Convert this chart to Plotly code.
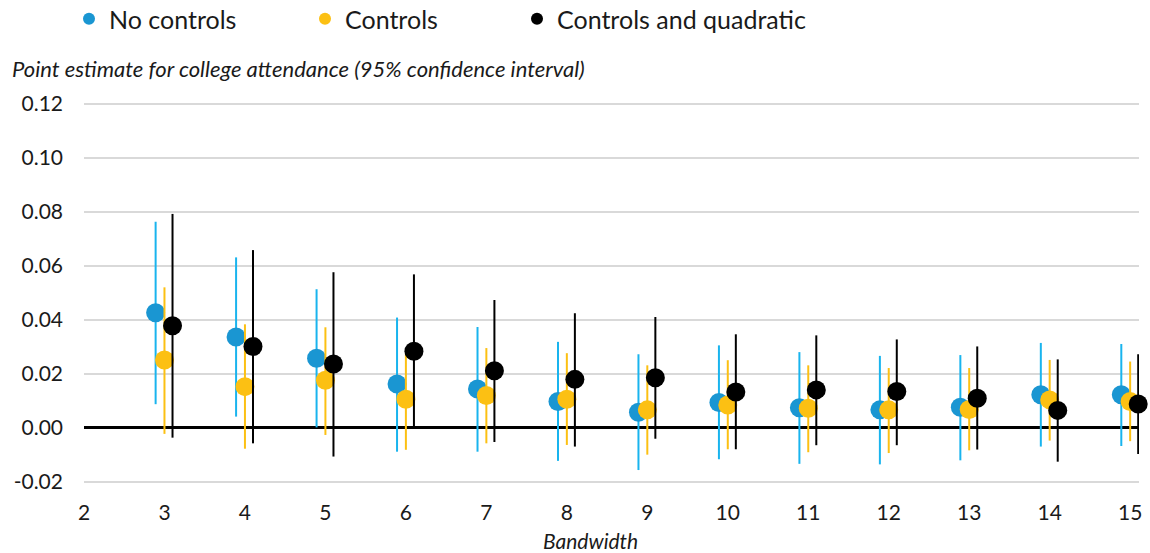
import plotly.graph_objects as go

bandwidth = [3, 4, 5, 6, 7, 8, 9, 10, 11, 12, 13, 14, 15]
x_ticks = [2, 3, 4, 5, 6, 7, 8, 9, 10, 11, 12, 13, 14, 15]
y_ticks = [-0.02, 0.00, 0.02, 0.04, 0.06, 0.08, 0.10, 0.12]
y_tick_labels = ["-0.02", "0.00", "0.02", "0.04", "0.06", "0.08", "0.10", "0.12"]

# No controls
nc_est = [0.0427, 0.0337, 0.0258, 0.0163, 0.0144, 0.0098, 0.0058, 0.0094, 0.0075, 0.0067, 0.0077, 0.0123, 0.0123]
nc_lo = [0.0088, 0.0042, 0.0002, -0.0088, -0.0088, -0.0122, -0.0156, -0.0116, -0.0133, -0.0135, -0.0120, -0.0069, -0.0067]
nc_hi = [0.0764, 0.0632, 0.0514, 0.0409, 0.0374, 0.0319, 0.0273, 0.0306, 0.0281, 0.0267, 0.0270, 0.0315, 0.0311]

# Controls
c_est = [0.0252, 0.0153, 0.0177, 0.0106, 0.0120, 0.0106, 0.0067, 0.0085, 0.0073, 0.0067, 0.0068, 0.0104, 0.0098]
c_lo = [-0.0022, -0.0077, -0.0026, -0.0081, -0.0057, -0.0063, -0.0099, -0.0079, -0.0090, -0.0093, -0.0083, -0.0047, -0.0049]
c_hi = [0.0521, 0.0384, 0.0373, 0.0277, 0.0296, 0.0277, 0.0232, 0.0251, 0.0232, 0.0222, 0.0222, 0.0252, 0.0246]

# Controls and quadratic
q_est = [0.0379, 0.0302, 0.0237, 0.0284, 0.0212, 0.0180, 0.0186, 0.0133, 0.0141, 0.0135, 0.0110, 0.0065, 0.0089]
q_lo = [-0.0036, -0.0057, -0.0106, 0.0005, -0.0052, -0.0069, -0.0040, -0.0079, -0.0064, -0.0064, -0.0080, -0.0125, -0.0097]
q_hi = [0.0793, 0.0659, 0.0577, 0.0569, 0.0474, 0.0425, 0.0411, 0.0347, 0.0343, 0.0328, 0.0302, 0.0254, 0.0273]

offsets = [-0.11, 0.0, 0.10]

FONT = "Lato, 'Open Sans', sans-serif"

series = [
    ("No controls", nc_est, nc_lo, nc_hi, "#1a96d2", "#19b4ee", "legend"),
    ("Controls", c_est, c_lo, c_hi, "#fcc013", "#fcc013", "legend2"),
    ("Controls and quadratic", q_est, q_lo, q_hi, "#000000", "#000000", "legend3"),
]

fig = go.Figure()
for (name, est, lo, hi, mcol, lcol, leg), off in zip(series, offsets):
    xs = [b + off for b in bandwidth]
    fig.add_trace(go.Scatter(
        x=xs, y=est, mode="markers", name=name, legend=leg,
        marker=dict(size=19, color=mcol, line=dict(width=0)),
        error_y=dict(type="data", symmetric=False,
                     array=[h - e for h, e in zip(hi, est)],
                     arrayminus=[e - l for e, l in zip(est, lo)],
                     color=lcol, thickness=2, width=0),
        cliponaxis=False,
    ))

W, H = 1150, 553
L, R, T, B = 84, 11, 103, 70

legend_common = dict(orientation="h", xref="container", yref="container",
                     xanchor="left", yanchor="middle", bgcolor="rgba(0,0,0,0)",
                     font=dict(family=FONT, size=25, color="#1a1a1a"),
                     itemsizing="constant")

fig.update_layout(
    width=W, height=H,
    margin=dict(l=L, r=R, t=T, b=B, autoexpand=False),
    paper_bgcolor="white", plot_bgcolor="white",
    font=dict(family=FONT, size=21, color="#1a1a1a"),
    showlegend=True,
    legend=dict(x=(89 - 20) / W, y=1 - 19 / H, **legend_common),
    legend2=dict(x=(325 - 20) / W, y=1 - 19 / H, **legend_common),
    legend3=dict(x=(537 - 20) / W, y=1 - 19 / H, **legend_common),
    xaxis=dict(range=[2, 15.11], tickmode="array", tickvals=x_ticks,
               ticktext=[str(v) for v in x_ticks],
               showgrid=False, zeroline=False, showline=False,
               ticks="", ticklabelstandoff=15, automargin=False,
               tickfont=dict(family=FONT, size=21, color="#1a1a1a")),
    yaxis=dict(range=[-0.0204, 0.1204], tickmode="array", tickvals=y_ticks,
               ticktext=y_tick_labels,
               showgrid=True, gridcolor="#d9d9d9", gridwidth=2,
               zeroline=True, zerolinecolor="#000000", zerolinewidth=2.5,
               showline=False, ticks="", ticklabelstandoff=20, automargin=False,
               tickfont=dict(family=FONT, size=21, color="#1a1a1a")),
    annotations=[
        dict(text="Point estimate for college attendance (95% confidence interval)",
             xref="paper", yref="paper", x=(10 - L) / (W - L - R), y=1 + (T - 68) / (H - T - B),
             xanchor="left", yanchor="middle", showarrow=False,
             font=dict(family=FONT, size=22, color="#1a1a1a", style="italic")),
        dict(text="Bandwidth",
             xref="paper", yref="paper", x=(590 - L) / (W - L - R), y=-(540 - (H - B)) / (H - T - B),
             xanchor="center", yanchor="middle", showarrow=False,
             font=dict(family=FONT, size=21, color="#1a1a1a", style="italic")),
    ],
)

fig.write_html("out.html", config={"displayModeBar": False},
               post_script="document.body.style.margin='0';")
